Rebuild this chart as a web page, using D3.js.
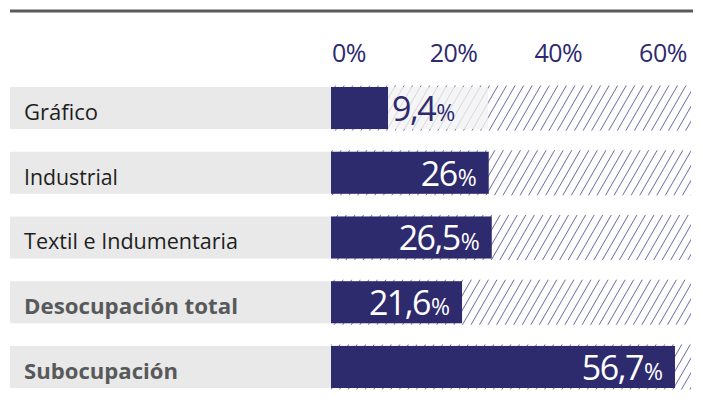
<!DOCTYPE html>
<html><head><meta charset="utf-8">
<script src="https://cdn.jsdelivr.net/npm/d3@7"></script>
<style>html,body{margin:0;padding:0;background:#fff;}svg{display:block;}</style>
</head><body>
<script>
const categories = ["Gráfico", "Industrial", "Textil e Indumentaria", "Desocupación total", "Subocupación"];
const values = [9.4, 26, 26.5, 21.6, 56.7];
const valueLabels = ["9,4", "26", "26,5", "21,6", "56,7"];
const highlighted = [false, false, false, true, true];
const tickLabels = ["0%", "20%", "40%", "60%"];

const W = 703, H = 405;
const navy = "#2e2a6e";
const svg = d3.select("body").append("svg").attr("width", W).attr("height", H);

const defs = svg.append("defs");
const pat = defs.append("pattern").attr("id", "hatch").attr("patternUnits", "userSpaceOnUse")
  .attr("width", 7.4).attr("height", 9).attr("patternTransform", "rotate(30)");
pat.append("line").attr("x1", 0).attr("y1", 0).attr("x2", 0).attr("y2", 9)
  .attr("stroke", "#45428c").attr("stroke-width", 1.4);

const x = d3.scaleLinear().domain([0, 60]).range([331, 695]);
const y = d3.scaleBand().domain(categories).range([87, 388]).paddingInner(0.35).paddingOuter(0);
const tx = d3.scalePoint().domain(tickLabels).range([349, 663]);

// top rule
svg.append("line").attr("x1", 10).attr("x2", 693).attr("y1", 11).attr("y2", 11)
  .attr("stroke", "#5a5a5a").attr("stroke-width", 3);

// tick labels
svg.selectAll("text.tick").data(tickLabels).join("text")
  .attr("class", "tick").attr("x", d => tx(d)).attr("y", 62)
  .attr("text-anchor", "middle").attr("fill", navy)
  .style("font-family", "'Open Sans', sans-serif").style("font-size", "25px")
  .style("letter-spacing", "-0.5px")
  .text(d => d);

const rows = svg.selectAll("g.row").data(categories).join("g").attr("class", "row");

// label background
rows.append("rect").attr("x", 10).attr("y", d => y(d)).attr("width", x(0) - 10)
  .attr("height", y.bandwidth()).attr("fill", "#e8e9e8");

// hatch background
rows.append("rect").attr("x", x(0)).attr("y", d => y(d) - 1.5).attr("width", 691 - x(0))
  .attr("height", y.bandwidth() + 3).attr("fill", "url(#hatch)");

// light box for outside label (Gráfico)
rows.filter((d, i) => i === 0).append("rect")
  .attr("x", x(values[0])).attr("y", d => y(d))
  .attr("width", 100).attr("height", y.bandwidth())
  .attr("fill", "#f2f2f2").attr("fill-opacity", 0.8);

// bars
rows.append("rect").attr("x", x(0)).attr("y", d => y(d))
  .attr("width", (d, i) => x(values[i]) - x(0)).attr("height", y.bandwidth()).attr("fill", navy);

// category labels
rows.append("text").attr("x", 24).attr("y", d => y(d) + 33)
  .attr("fill", (d, i) => highlighted[i] ? "#58595b" : "#1e1e1e")
  .style("font-family", "'Open Sans', sans-serif").style("font-size", "22px")
  .style("font-weight", (d, i) => highlighted[i] ? "700" : "400")
  .attr("textLength", (d, i) => [74, 94, 214, 214, 154][i])
  .attr("lengthAdjust", "spacingAndGlyphs")
  .text(d => d);

// value labels
rows.each(function(d, i) {
  const g = d3.select(this);
  const inside = values[i] > 15;
  const t = g.append("text").attr("y", y(d) + 34)
    .attr("x", inside ? x(values[i]) - 12 : x(values[i]) + 4)
    .attr("text-anchor", inside ? "end" : "start")
    .attr("fill", inside ? "#ffffff" : navy)
    .style("font-family", "'Open Sans', sans-serif");
  t.append("tspan").style("font-size", "34px").style("letter-spacing", "-1.5px").text(valueLabels[i]);
  t.append("tspan").attr("dx", 1).style("font-size", "23px").text("%");
});
</script>
</body></html>
